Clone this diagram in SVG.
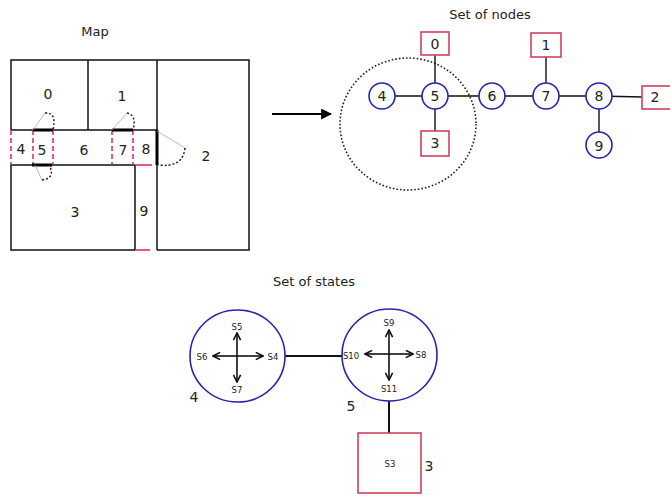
<svg xmlns="http://www.w3.org/2000/svg" width="670" height="497" viewBox="0 0 670 497">
<defs>
<style>
text{font-family:"DejaVu Sans","Liberation Sans",sans-serif;fill:#222;text-anchor:middle;dominant-baseline:central}
.t{font-size:13px}
.n{font-size:14px}
.s{font-size:8.5px}
.wall{stroke:#111;stroke-width:1.5;fill:none}
.thick{stroke:#000;stroke-width:3;fill:none}
.rdash{stroke:#e0206a;stroke-width:1.5;stroke-dasharray:5 3;fill:none}
.arc{stroke:#222;stroke-width:1.5;stroke-dasharray:2 2;fill:none}
.leaf{stroke:#aaa;stroke-width:0.8;fill:none}
.cir{fill:#fff;stroke:#2a22b0;stroke-width:1.6}
.box{fill:#fff;stroke:#d4405a;stroke-width:1.6}
.edge{stroke:#111;stroke-width:1.4;fill:none}
.sa{stroke:#111;stroke-width:1.6;fill:none}
</style>
<marker id="ah" viewBox="0 0 10 10" refX="9" refY="5" markerWidth="5" markerHeight="5" orient="auto"><path d="M0,0 L10,5 L0,10 z" fill="#000"/></marker>
<marker id="ch" viewBox="0 0 10 10" refX="9" refY="5" markerWidth="9" markerHeight="9" orient="auto" markerUnits="userSpaceOnUse"><path d="M1,1 L9,5 L1,9" fill="none" stroke="#111" stroke-width="1.8"/></marker>
</defs>
<rect width="670" height="497" fill="#fff"/>

<g id="map">
<text class="t" x="95" y="31">Map</text>
<path class="wall" d="M11,130 V60 H249 V250 H157 M135,250 H11 V165"/>
<path class="wall" d="M88,60 V130 M157,60 V250 M11,130 H157 M11,165 H135 M135,165 V250"/>
<path class="rdash" d="M11,130 V165 M33,130 V165 M53,130 V165 M112,130 V165 M133,130 V165"/>
<path stroke="#e0206a" stroke-width="1.5" d="M135,165 H152 M135,250 H150"/>
<path class="thick" d="M33,130 H53 M32,165 H52 M112,130 H133 M157,130 V165"/>
<path class="leaf" d="M33,130 L45,113 M112,130 L127,113 M157,131 L185,148 M35,165 L42,180"/>
<path class="arc" d="M45,113 Q57,112 53,130 M127,113 Q137,115 133,130 M185,148 Q183,168 158,165 M42,180 Q55,178 50,167"/>
<text class="n" x="48" y="94">0</text>
<text class="n" x="122" y="96">1</text>
<text class="n" x="206" y="156">2</text>
<text class="n" x="75" y="212">3</text>
<text class="n" x="144" y="211">9</text>
<text class="n" x="21" y="149">4</text>
<text class="n" x="42" y="150">5</text>
<text class="n" x="84" y="150">6</text>
<text class="n" x="123" y="150">7</text>
<text class="n" x="146" y="149">8</text>
</g>

<g id="arrow">
<line x1="272" y1="114" x2="331" y2="114" stroke="#000" stroke-width="2.2" marker-end="url(#ah)"/>
</g>

<g id="nodes-title"><text class="t" x="490" y="14">Set of nodes</text></g>
<g id="group-circle"><ellipse cx="408" cy="124" rx="68" ry="66" fill="none" stroke="#222" stroke-width="1.6" stroke-dasharray="1.6 2"/></g>

<g id="connectors">
<path class="edge" d="M382,96 H599 M435,55 V131 M546,57 V96 M599,96 V145 M599,96 L642,97"/>
<path stroke="#111" stroke-width="2" d="M285,356 H342 M389,401 V433"/>
</g>

<g id="n0"><rect class="box" x="421" y="32" width="28" height="23"/><text class="n" x="435" y="44">0</text></g>
<g id="n1"><rect class="box" x="531" y="33" width="30" height="24"/><text class="n" x="546" y="45">1</text></g>
<g id="n2"><rect class="box" x="642" y="86" width="30" height="23"/><text class="n" x="655" y="97">2</text></g>
<g id="n3"><rect class="box" x="421" y="131" width="28" height="25"/><text class="n" x="435" y="143">3</text></g>
<g id="n4"><circle class="cir" cx="382" cy="96" r="13"/><text class="n" x="382" y="96">4</text></g>
<g id="n5"><circle class="cir" cx="435" cy="96" r="13"/><text class="n" x="435" y="96">5</text></g>
<g id="n6"><circle class="cir" cx="492" cy="96" r="13"/><text class="n" x="492" y="96">6</text></g>
<g id="n7"><circle class="cir" cx="546" cy="96" r="13"/><text class="n" x="546" y="96">7</text></g>
<g id="n8"><circle class="cir" cx="599" cy="96" r="13"/><text class="n" x="599" y="96">8</text></g>
<g id="n9"><circle class="cir" cx="599" cy="145" r="13"/><text class="n" x="599" y="146">9</text></g>

<g id="states-title"><text class="t" x="314" y="281">Set of states</text></g>

<g id="state4">
<ellipse class="cir" cx="237.5" cy="356" rx="47.5" ry="46"/>
<line class="sa" x1="237" y1="356" x2="213" y2="356" marker-end="url(#ch)"/>
<line class="sa" x1="237" y1="356" x2="263" y2="356" marker-end="url(#ch)"/>
<line class="sa" x1="237" y1="356" x2="237" y2="333" marker-end="url(#ch)"/>
<line class="sa" x1="237" y1="356" x2="237" y2="382" marker-end="url(#ch)"/>
<text class="s" x="237" y="327">S5</text>
<text class="s" x="202" y="357">S6</text>
<text class="s" x="273" y="357">S4</text>
<text class="s" x="237" y="390">S7</text>
<text class="n" x="194" y="397">4</text>
</g>

<g id="state5">
<ellipse class="cir" cx="389.5" cy="355" rx="47.5" ry="46"/>
<line class="sa" x1="389" y1="354" x2="365" y2="354" marker-end="url(#ch)"/>
<line class="sa" x1="389" y1="354" x2="413" y2="354" marker-end="url(#ch)"/>
<line class="sa" x1="389" y1="354" x2="389" y2="330" marker-end="url(#ch)"/>
<line class="sa" x1="389" y1="354" x2="389" y2="380" marker-end="url(#ch)"/>
<text class="s" x="351" y="356">S10</text>
<text class="s" x="389" y="323">S9</text>
<text class="s" x="421" y="355">S8</text>
<text class="s" x="389" y="389">S11</text>
<text class="n" x="351" y="406">5</text>
</g>

<g id="state3">
<rect class="box" x="358" y="433" width="63" height="60"/>
<text class="s" x="390" y="464">S3</text>
<text class="n" x="429" y="466">3</text>
</g>
</svg>
